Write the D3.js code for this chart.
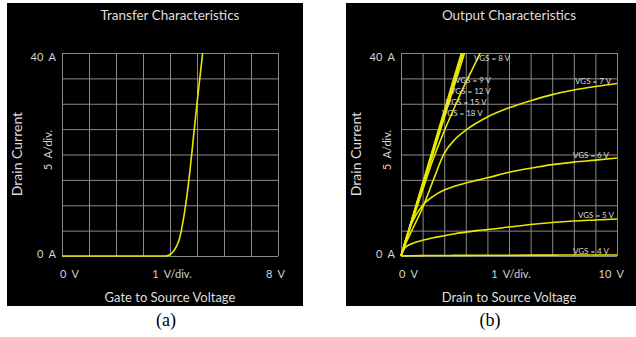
<!DOCTYPE html>
<html>
<head>
<meta charset="utf-8">
<script src="https://cdnjs.cloudflare.com/ajax/libs/d3/7.8.5/d3.min.js"></script>
<style>
	body { margin: 0; background: #fff; }
	svg { display: block; }
	text { font-family: Lato, "Open Sans", sans-serif; }
</style>
</head>
<body>
<svg id="chart" width="636" height="337"></svg>
<script>
// (a) transfer characteristics: drain current vs gate-source voltage
var transferVgs = [0, 3.85, 4.0, 4.12, 4.25, 4.35, 4.43, 4.55, 4.7, 4.9, 5.05, 5.21];
var transferId = [0, 0, 0.3, 0.9, 2.0, 3.4, 5.3, 9.0, 15, 25, 32.5, 40];

// (b) output characteristics: drain current vs drain-source voltage, one array per VGS
var outputVds = [0, 0.2, 0.5, 1, 1.5, 2, 2.5, 3, 3.5, 4, 5, 6, 7, 8, 9, 10];
var id4V = [0, 0.02, 0.05, 0.08, 0.1, 0.1, 0.12, 0.13, 0.14, 0.15, 0.16, 0.17, 0.18, 0.19, 0.2, 0.2];
var id5V = [0, 1.7, 2.4, 3.1, 3.6, 4.0, 4.4, 4.7, 5.0, 5.2, 5.7, 6.2, 6.6, 6.9, 7.1, 7.3];
var id6V = [0, 3.0, 6.5, 10.0, 11.8, 13.0, 13.8, 14.4, 14.9, 15.4, 16.5, 17.3, 18.0, 18.5, 18.9, 19.3];
var id7V = [0, 2.3, 5.0, 9.5, 15.0, 20.2, 23.0, 24.8, 26.2, 27.4, 29.2, 30.6, 31.8, 32.7, 33.4, 34.0];
var id8V = [0, 2.6, 6.6, 13.0, 19.2, 24.6, 29.5, 34.2, 38.5, 43.0, null, null, null, null, null, null];
var id9V = [0, 2.7, 6.8, 13.6, 20.4, 27.2, 34.0, 40.8, null, null, null, null, null, null, null, null];
var id12V = [0, 2.8, 7.0, 13.9, 20.9, 27.8, 34.8, 41.7, null, null, null, null, null, null, null, null];
var id15V = [0, 2.8, 7.1, 14.1, 21.2, 28.2, 35.3, 42.3, null, null, null, null, null, null, null, null];
var id18V = [0, 2.9, 7.2, 14.3, 21.5, 28.6, 35.8, 42.9, null, null, null, null, null, null, null, null];

// curve labels, anchored in data units (V, A)
var labelText = ["VGS = 4 V", "VGS = 5 V", "VGS = 6 V", "VGS = 7 V", "VGS = 8 V", "VGS = 9 V", "VGS = 12 V", "VGS = 15 V", "VGS = 18 V"];
var labelVds = [7.96, 8.19, 7.96, 8.06, 3.38, 2.5, 2.27, 2.08, 1.9];
var labelId = [1.0, 8.1, 19.9, 34.5, 39.0, 34.7, 32.5, 30.3, 28.2];

var svg = d3.select("#chart");
var yellow = "#e8e800";
var gridW = 216, gridH = 203;

function panel(px, opts) {
	var g = svg.append("g").attr("transform", "translate(" + px + ",3)");

	g.append("rect")
		.attr("width", 296)
		.attr("height", 303)
		.attr("fill", "#000");

	var plot = g.append("g").attr("transform", "translate(55,50)");

	var x = d3.scaleLinear().domain([0, opts.xMax]).range([0, gridW]);
	var y = d3.scaleLinear().domain([0, 40]).range([gridH, 0]);

	// grid
	plot.append("g")
		.attr("class", "grid")
		.call(d3.axisBottom(x).tickValues(d3.range(0, opts.xMax + 1)).tickSize(gridH).tickFormat(""))
		.call(function(s) { s.select(".domain").remove(); });
	plot.append("g")
		.attr("class", "grid")
		.call(d3.axisRight(y).tickValues(d3.range(0, 41, 5)).tickSize(gridW).tickFormat(""))
		.call(function(s) { s.select(".domain").remove(); });
	plot.selectAll(".grid line")
		.attr("stroke", "#8a8a8a")
		.attr("stroke-width", 1);

	var clipId = "clip" + px;
	plot.append("clipPath")
		.attr("id", clipId)
		.append("rect")
		.attr("x", -2)
		.attr("width", gridW + 4)
		.attr("height", gridH + 2);

	var line = d3.line()
		.defined(function(d) { return d[1] != null; })
		.x(function(d) { return x(d[0]); })
		.y(function(d) { return y(d[1]); })
		.curve(d3.curveMonotoneX);

	plot.append("g")
		.attr("clip-path", "url(#" + clipId + ")")
		.selectAll("path")
		.data(opts.curves)
		.enter().append("path")
		.attr("d", line)
		.attr("fill", "none")
		.attr("stroke", yellow)
		.attr("stroke-width", 1.6);

	if (opts.labels) {
		plot.selectAll(".curveLabel")
			.data(opts.labels)
			.enter().append("text")
			.attr("class", "curveLabel")
			.attr("x", function(d) { return x(d.vds); })
			.attr("y", function(d) { return y(d.id); })
			.attr("dy", "0.35em")
			.attr("fill", "#dcdcdc")
			.style("font-size", "8px")
			.style("white-space", "pre")
			.text(function(d) { return d.text; });
	}

	// titles and axis texts
	g.append("text")
		.attr("x", 55 + gridW / 2)
		.attr("y", 12)
		.attr("dy", "0.35em")
		.attr("text-anchor", "middle")
		.attr("fill", "#dedede")
		.style("font-size", "13.5px")
		.text(opts.title);

	g.append("text")
		.attr("x", 55 + gridW / 2)
		.attr("y", 294)
		.attr("dy", "0.35em")
		.attr("text-anchor", "middle")
		.attr("fill", "#dedede")
		.style("font-size", "13px")
		.text(opts.xTitle);

	g.append("text")
		.attr("transform", "translate(10,151) rotate(-90)")
		.attr("dy", "0.35em")
		.attr("text-anchor", "middle")
		.attr("fill", "#dedede")
		.style("font-size", "14px")
		.text("Drain Current");

	var tick = function(tx, ty, anchor, str, rot) {
		var t = g.append("text")
			.attr("dy", "0.35em")
			.attr("text-anchor", anchor)
			.attr("fill", "#d4d4d4")
			.style("font-size", "11px")
			.style("white-space", "pre")
			.text(str);
		if (rot) {
			t.attr("transform", "translate(" + tx + "," + ty + ") rotate(-90)");
		} else {
			t.attr("x", tx).attr("y", ty);
		}
	};
	tick(49, 54, "end", "40  A");
	tick(49, 251, "end", "0  A");
	tick(41, 147, "middle", "5  A/div.", true);
	tick(53, 271, "start", "0  V");
	tick(55 + gridW / 2 + 2, 271, "middle", "1  V/div.");
	tick(55 + gridW + 7, 271, "end", opts.xMax + "  V");
}

var transferPts = transferVgs.map(function(v, i) { return [v, transferId[i]]; });

var outputSets = [id4V, id5V, id6V, id7V, id8V, id9V, id12V, id15V, id18V];
var outputPts = outputSets.map(function(arr) {
	return outputVds.map(function(v, i) { return [v, arr[i]]; });
});

var outputLabels = labelText.map(function(t, i) {
	return {text: t, vds: labelVds[i], id: labelId[i]};
});

panel(7, {
	title: "Transfer Characteristics",
	xTitle: "Gate to Source Voltage",
	xMax: 8,
	curves: [transferPts]
});

panel(346, {
	title: "Output Characteristics",
	xTitle: "Drain to Source Voltage",
	xMax: 10,
	curves: outputPts,
	labels: outputLabels
});

// captions
svg.selectAll(".caption")
	.data(["(a)", "(b)"])
	.enter().append("text")
	.attr("class", "caption")
	.attr("x", function(d, i) { return i ? 490 : 166; })
	.attr("y", 326)
	.attr("text-anchor", "middle")
	.attr("fill", "#000")
	.style("font-family", "'Liberation Serif', 'DejaVu Serif', serif")
	.style("font-size", "18px")
	.text(function(d) { return d; });
</script>
</body>
</html>
